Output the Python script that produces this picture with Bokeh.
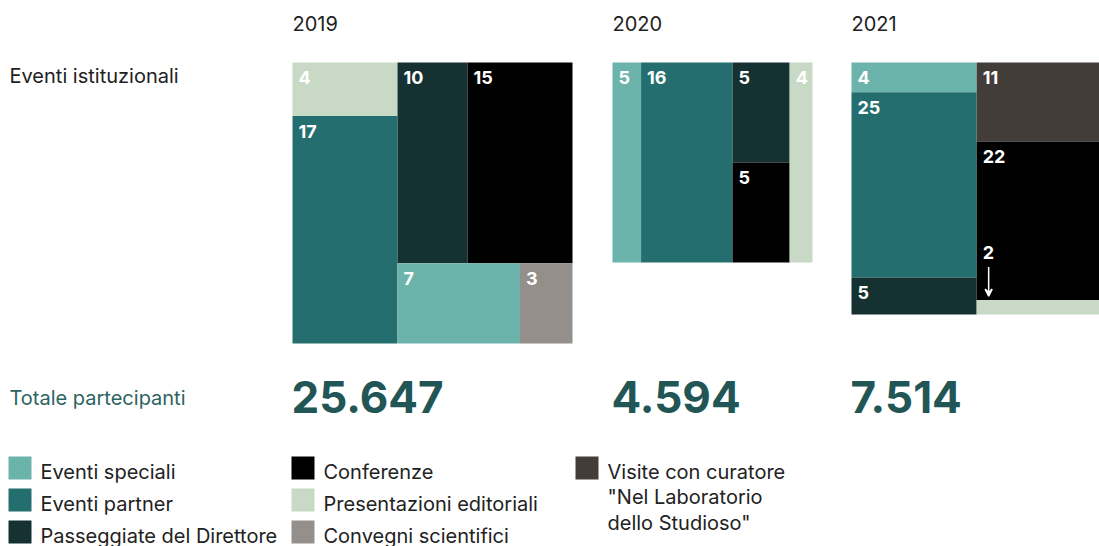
from bokeh.plotting import figure
from bokeh.models import Range1d, ColumnDataSource, Arrow, VeeHead
from bokeh.core.properties import value
from bokeh.embed import file_html
from bokeh.resources import INLINE

# ---------------- data ----------------
years = ["2019", "2020", "2021"]
categories = [
    "Eventi speciali",
    "Eventi partner",
    "Passeggiate del Direttore",
    "Conferenze",
    "Presentazioni editoriali",
    "Convegni scientifici",
    'Visite con curatore\n"Nel Laboratorio\ndello Studioso"',
]
eventi_speciali = [7, 5, 4]
eventi_partner = [17, 16, 25]
passeggiate_direttore = [10, 5, 5]
conferenze = [15, 5, 22]
presentazioni_editoriali = [4, 4, 2]
convegni_scientifici = [3, 0, 0]
visite_curatore = [0, 0, 11]
totale_partecipanti = [25647, 4594, 7514]
row_label = "Eventi istituzionali"
total_label = "Totale partecipanti"

# ---------------- styles / layout ----------------
keys = ["spe", "par", "pas", "con", "pre", "cnv", "vis"]
series = dict(zip(keys, [eventi_speciali, eventi_partner, passeggiate_direttore,
                         conferenze, presentazioni_editoriali, convegni_scientifici,
                         visite_curatore]))
colors = dict(zip(keys, ["#6cb3ab", "#246e6f", "#153131", "#000000",
                         "#c8d9c5", "#948f8a", "#433d3a"]))

# nested slice-and-dice structure per year ("h" = side by side, "v" = stacked)
structures = [
    ("h", [("v", ["pre", "par"]), ("v", [("h", ["pas", "con"]), ("h", ["spe", "cnv"])])]),
    ("h", ["spe", "par", ("v", ["pas", "con"]), "pre"]),
    ("h", [("v", ["spe", "par", "pas"]), ("v", ["vis", "con", "pre"])]),
]
block_left = [292, 612, 851]
block_w = [280, 200, 254]
block_h = [281, 200, 252]
block_top = 62

FONT = "Inter"
TXT = "#222222"
TEAL = "#225656"
W, H = 1099, 546


def node_total(node, yi):
    if isinstance(node, str):
        return series[node][yi]
    return sum(node_total(c, yi) for c in node[1])


def layout(node, x0, y0, x1, y1, yi, out):
    if isinstance(node, str):
        if series[node][yi] > 0:
            out.append((node, series[node][yi], x0, y0, x1, y1))
        return
    d, children = node
    tot = node_total(node, yi)
    cur = x0 if d == "h" else y0
    for c in children:
        f = node_total(c, yi) / tot
        if d == "h":
            nx = cur + f * (x1 - x0)
            layout(c, cur, y0, nx, y1, yi, out)
        else:
            nx = cur + f * (y1 - y0)
            layout(c, x0, cur, x1, nx, yi, out)
        cur = nx


p = figure(width=W, height=H, output_backend="svg", toolbar_location=None,
           x_range=Range1d(0, W), y_range=Range1d(H, 0),
           min_border=0, outline_line_color=None)
p.axis.visible = False
p.grid.visible = False
p.background_fill_color = "white"

rects = dict(left=[], right=[], top=[], bottom=[], color=[])
labels = dict(x=[], y=[], text=[])
arrows = []
for yi in range(len(years)):
    out = []
    layout(structures[yi], block_left[yi], block_top,
           block_left[yi] + block_w[yi], block_top + block_h[yi], yi, out)
    for k, v, x0, y0, x1, y1 in out:
        rects["left"].append(x0); rects["right"].append(x1)
        rects["top"].append(y0); rects["bottom"].append(y1)
        rects["color"].append(colors[k])
        labels["text"].append(str(v))
        if y1 - y0 >= 24:
            labels["x"].append(x0 + 6); labels["y"].append(y0 + 15)
        else:
            labels["x"].append(x0 + 6); labels["y"].append(y0 - 48)
            arrows.append((x0 + 12, y0 - 33, y0 - 4))

p.quad(left="left", right="right", top="top", bottom="bottom", fill_color="color",
       line_color=None, source=ColumnDataSource(rects))
p.text(x="x", y="y", text="text", source=ColumnDataSource(labels),
       text_color="white", text_font=value(FONT), text_font_style="bold",
       text_font_size="18px", text_baseline="alphabetic", text_align="left")
for ax, ys, ye in arrows:
    p.add_layout(Arrow(x_start=ax, y_start=ys, x_end=ax, y_end=ye,
                       line_color="white", line_width=1.5,
                       end=VeeHead(size=7, line_color="white", fill_color="white",
                                   line_width=1.5)))

# year headers
p.text(x=block_left, y=[23] * 3, text=years, text_color=TXT, text_font=value(FONT),
       text_font_size="20px", text_baseline="alphabetic")
# row labels
p.text(x=[9], y=[75], text=[row_label], text_color=TXT, text_font=value(FONT),
       text_font_size="20px", text_baseline="alphabetic")
p.text(x=[9], y=[397], text=[total_label], text_color="#2d6362", text_font=value(FONT),
       text_font_size="20px", text_baseline="alphabetic")
# totals
tot_txt = [f"{t:,}".replace(",", ".") for t in totale_partecipanti]
p.text(x=[b - 1 for b in block_left], y=[396] * 3, text=tot_txt, text_color=TEAL,
       text_font=value(FONT), text_font_style="bold", text_font_size="44px",
       text_baseline="alphabetic")

# legend
leg_cols = [8, 291, 575]
leg_order = [[0, 1, 2], [3, 4, 5], [6]]
leg = dict(left=[], right=[], top=[], bottom=[], color=[], tx=[], ty=[], text=[])
for ci, col in enumerate(leg_order):
    for ri, idx in enumerate(col):
        top = 456 + ri * 32
        leg["left"].append(leg_cols[ci]); leg["right"].append(leg_cols[ci] + 23)
        leg["top"].append(top); leg["bottom"].append(top + 23)
        leg["color"].append(colors[keys[idx]])
        leg["tx"].append(leg_cols[ci] + 32); leg["ty"].append(top + 3)
        leg["text"].append(categories[idx])
lsrc = ColumnDataSource(leg)
p.quad(left="left", right="right", top="top", bottom="bottom", fill_color="color",
       line_color=None, source=lsrc)
p.text(x="tx", y="ty", text="text", source=lsrc, text_color=TXT, text_font=value(FONT),
       text_font_size="20px", text_baseline="top", text_line_height=1.08)

open("out.html", "w").write(file_html(p, INLINE))
